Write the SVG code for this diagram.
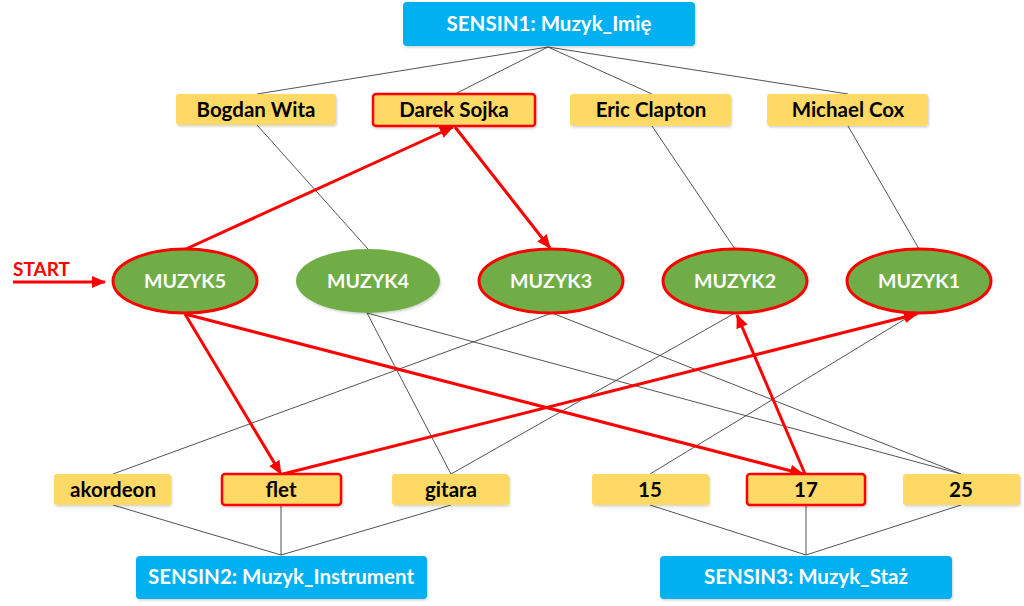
<svg xmlns="http://www.w3.org/2000/svg" width="1024" height="606" viewBox="0 0 1024 606">
<defs>
<style>
.blue{fill:#00B0F0;}
.yel{fill:#FFD966;}
.sel{stroke:#FF0000;stroke-width:2.5;}
.ell{fill:#70AD47;}
.esel{stroke:#FF0000;stroke-width:3;}
.tw{fill:#FFFFFF;font-family:Lato,"Liberation Sans",sans-serif;font-weight:bold;text-anchor:middle;}
.tb{fill:#000000;font-family:Lato,"Liberation Sans",sans-serif;font-weight:bold;text-anchor:middle;font-size:20.5px;}
.thin{stroke:#404040;stroke-width:0.9;fill:none;}
.red{stroke:#FF0000;stroke-width:3;fill:none;marker-end:url(#ah);}
</style>
<marker id="ah" markerUnits="userSpaceOnUse" markerWidth="14" markerHeight="12" refX="13" refY="6" orient="auto">
<path d="M0,0 L14,6 L0,12 z" fill="#FF0000"/>
</marker>
<filter id="sh" x="-10%" y="-20%" width="120%" height="150%">
<feDropShadow dx="1" dy="1.5" stdDeviation="1.2" flood-color="#000" flood-opacity="0.18"/>
</filter>
</defs>

<g id="connectors">
<line class="thin" x1="548" y1="47" x2="257" y2="94"/>
<line class="thin" x1="548" y1="47" x2="455" y2="94"/>
<line class="thin" x1="548" y1="47" x2="652" y2="94"/>
<line class="thin" x1="548" y1="47" x2="848" y2="94"/>
<line class="thin" x1="257" y1="125" x2="368" y2="249"/>
<line class="thin" x1="652" y1="126" x2="735" y2="249"/>
<line class="thin" x1="848" y1="126" x2="919" y2="249"/>
<line class="thin" x1="367" y1="313" x2="451" y2="474"/>
<line class="thin" x1="367" y1="313" x2="961" y2="474"/>
<line class="thin" x1="552" y1="313" x2="113" y2="474"/>
<line class="thin" x1="552" y1="313" x2="961" y2="474"/>
<line class="thin" x1="735" y1="313" x2="451" y2="474"/>
<line class="thin" x1="915" y1="313" x2="650" y2="474"/>
<line class="thin" x1="113" y1="505" x2="281" y2="555"/>
<line class="thin" x1="281" y1="505" x2="281" y2="555"/>
<line class="thin" x1="451" y1="505" x2="281" y2="555"/>
<line class="thin" x1="650" y1="505" x2="806" y2="555"/>
<line class="thin" x1="806" y1="505" x2="806" y2="555"/>
<line class="thin" x1="961" y1="505" x2="806" y2="555"/>
<line class="red" x1="186" y1="249" x2="453" y2="127"/>
<line class="red" x1="455" y1="127" x2="550" y2="248"/>
<line class="red" x1="185" y1="314" x2="281" y2="474"/>
<line class="red" x1="185" y1="314" x2="803" y2="474"/>
<line class="red" x1="805" y1="474" x2="737" y2="315"/>
<line class="red" x1="283" y1="474" x2="917" y2="314"/>
<line class="red" x1="13" y1="282" x2="105" y2="282"/>
</g>

<g id="start"><text x="13" y="276" font-family="Lato,'Liberation Sans',sans-serif" font-weight="bold" font-size="19" fill="#FF0000">START</text></g>

<g id="sensin1"><rect class="blue" x="403" y="2" width="292" height="44" rx="4" filter="url(#sh)"/><text class="tw" x="549" y="31" font-size="20.5">SENSIN1: Muzyk_Imię</text></g>
<g id="sensin2"><rect class="blue" x="136" y="556" width="291" height="43" rx="4" filter="url(#sh)"/><text class="tw" x="281" y="584" font-size="20.5">SENSIN2: Muzyk_Instrument</text></g>
<g id="sensin3"><rect class="blue" x="660" y="556" width="292" height="43" rx="4" filter="url(#sh)"/><text class="tw" x="806" y="584" font-size="20.5">SENSIN3: Muzyk_Staż</text></g>

<g id="bogdan"><rect class="yel" x="176" y="94" width="160" height="31" rx="3" filter="url(#sh)"/><text class="tb" x="256" y="117">Bogdan Wita</text></g>
<g id="darek"><rect class="yel sel" x="373" y="94" width="162" height="32" rx="3" filter="url(#sh)"/><text class="tb" x="454" y="117">Darek Sojka</text></g>
<g id="eric"><rect class="yel" x="570" y="94" width="161" height="32" rx="3" filter="url(#sh)"/><text class="tb" x="651" y="117">Eric Clapton</text></g>
<g id="michael"><rect class="yel" x="767" y="94" width="161" height="32" rx="3" filter="url(#sh)"/><text class="tb" x="848" y="117">Michael Cox</text></g>

<g id="muzyk5"><ellipse class="ell esel" cx="185" cy="281" rx="72" ry="32"/><text class="tw" x="185" y="288" font-size="19.5">MUZYK5</text></g>
<g id="muzyk4"><ellipse class="ell" cx="368" cy="281" rx="72" ry="32" filter="url(#sh)"/><text class="tw" x="368" y="288" font-size="19.5">MUZYK4</text></g>
<g id="muzyk3"><ellipse class="ell esel" cx="551" cy="281" rx="72" ry="32"/><text class="tw" x="551" y="288" font-size="19.5">MUZYK3</text></g>
<g id="muzyk2"><ellipse class="ell esel" cx="735" cy="281" rx="72" ry="32"/><text class="tw" x="735" y="288" font-size="19.5">MUZYK2</text></g>
<g id="muzyk1"><ellipse class="ell esel" cx="919" cy="281" rx="72" ry="32"/><text class="tw" x="919" y="288" font-size="19.5">MUZYK1</text></g>

<g id="akordeon"><rect class="yel" x="54" y="474" width="117" height="31" rx="3" filter="url(#sh)"/><text class="tb" x="113" y="497">akordeon</text></g>
<g id="flet"><rect class="yel sel" x="222" y="474" width="119" height="31" rx="3" filter="url(#sh)"/><text class="tb" x="281" y="497">flet</text></g>
<g id="gitara"><rect class="yel" x="392" y="474" width="117" height="31" rx="3" filter="url(#sh)"/><text class="tb" x="451" y="497">gitara</text></g>
<g id="n15"><rect class="yel" x="592" y="474" width="117" height="31" rx="3" filter="url(#sh)"/><text class="tb" x="650" y="497">15</text></g>
<g id="n17"><rect class="yel sel" x="747" y="474" width="118" height="31" rx="3" filter="url(#sh)"/><text class="tb" x="806" y="497">17</text></g>
<g id="n25"><rect class="yel" x="903" y="474" width="117" height="31" rx="3" filter="url(#sh)"/><text class="tb" x="961" y="497">25</text></g>
</svg>
